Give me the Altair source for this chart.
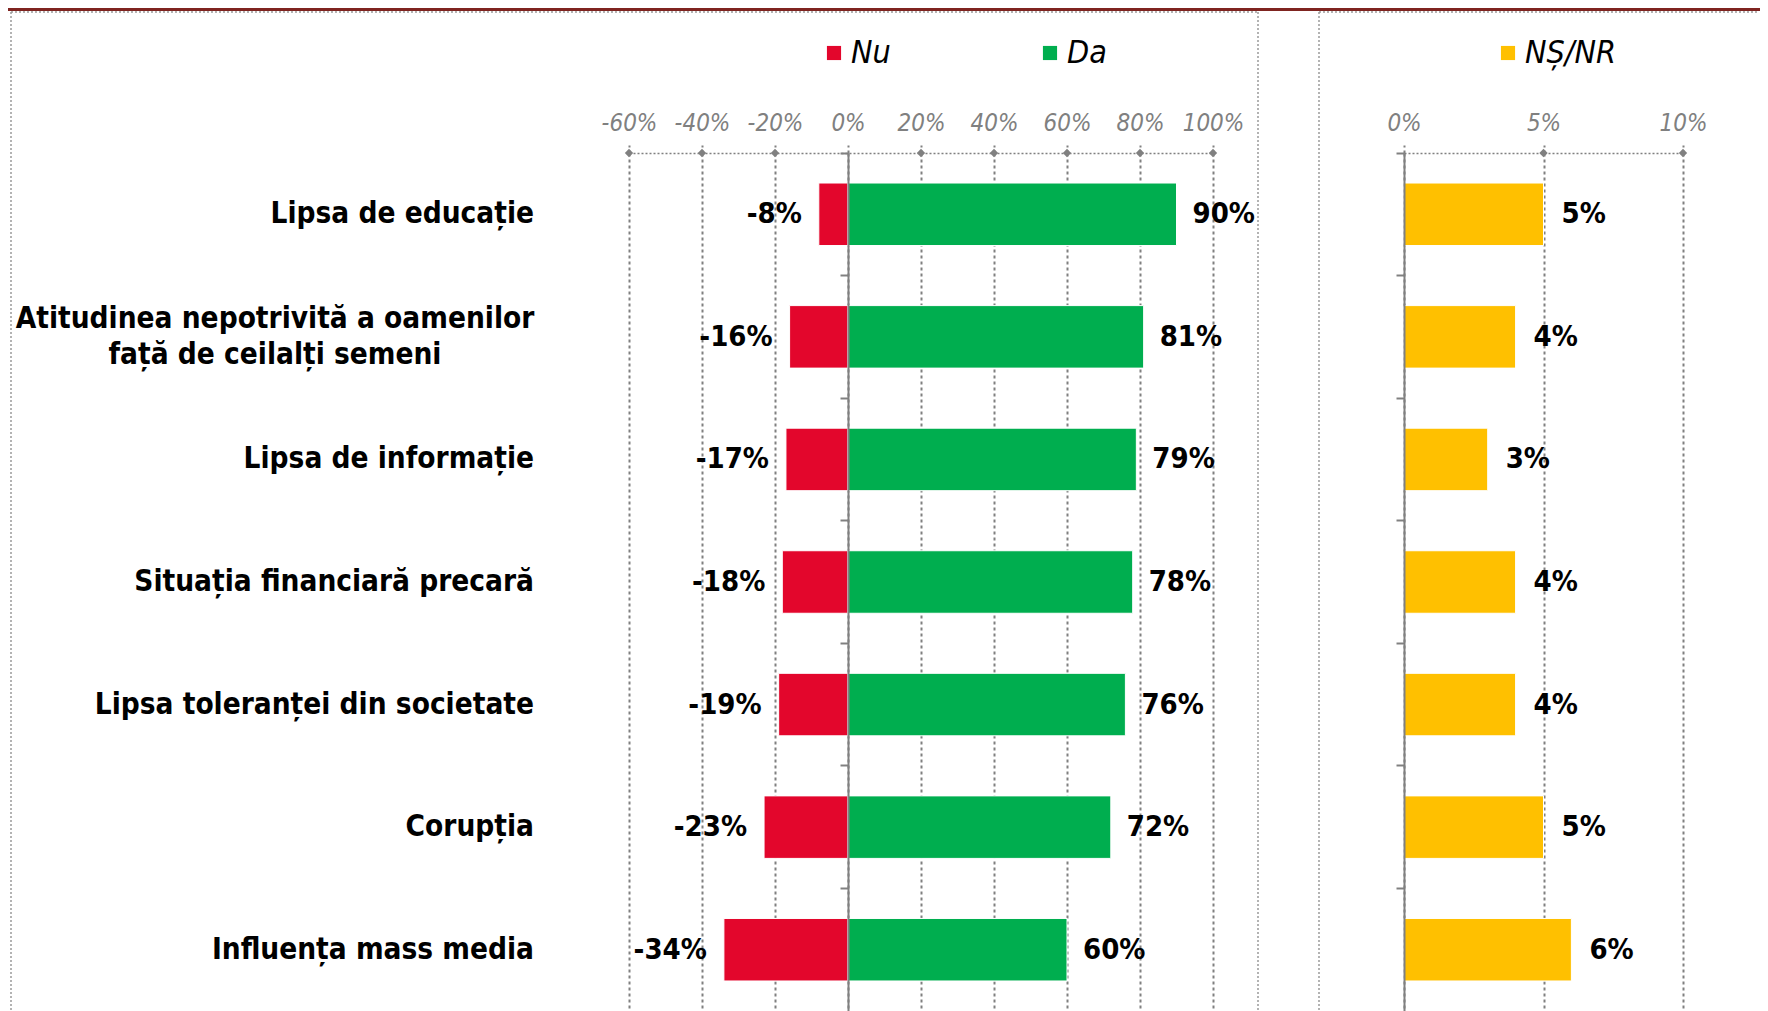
import altair as alt
import pandas as pd

# ---------------- data ----------------
categories = [
    "Lipsa de educație",
    "Atitudinea nepotrivită a oamenilor\nfață de ceilalți semeni",
    "Lipsa de informație",
    "Situația financiară precară",
    "Lipsa toleranței din societate",
    "Corupția",
    "Influența mass media",
]
nu_values = [-8, -16, -17, -18, -19, -23, -34]
da_values = [90, 81, 79, 78, 76, 72, 60]
nsnr_values = [5, 4, 3, 4, 4, 5, 6]
series_left = ["Nu", "Da"]
series_right = ["NȘ/NR"]
left_ticks = [-60, -40, -20, 0, 20, 40, 60, 80, 100]
right_ticks = [0, 5, 10]

# ---------------- style ----------------
RED, GREEN, YELLOW = "#E3062C", "#00AE4F", "#FFC000"
GRAY, BORDER, BAND = "#808080", "#9a9a9a", "#7F2420"
FONT = "'DejaVu Sans Condensed', 'DejaVu Sans', sans-serif"
TICKFONT = "'Liberation Sans Narrow', 'DejaVu Sans Condensed', 'DejaVu Sans', sans-serif"

W_L, W_R, H = 584, 279, 858
ZERO_OFF = W_L * 60 / 160

rows = []
for c, n, d in zip(categories, nu_values, da_values):
    rows.append({"cat": c, "series": series_left[0], "value": n, "label": f"{n}%"})
    rows.append({"cat": c, "series": series_left[1], "value": d, "label": f"{d}%"})
left_df = pd.DataFrame(rows)
right_df = pd.DataFrame({
    "cat": categories,
    "series": series_right[0],
    "value": nsnr_values,
    "label": [f"{v}%" for v in nsnr_values],
})
cat_df = pd.DataFrame({"cat": categories, "multi": ["\n" in c for c in categories]})
left_dia = pd.DataFrame({"tick": [t for t in left_ticks if t != 0]})
right_dia = pd.DataFrame({"tick": [t for t in right_ticks if t != 0]})
one = pd.DataFrame({"d": [0]})


def y_enc(offset):
    return alt.Y(
        "cat:N", sort=categories, title=None,
        scale=alt.Scale(paddingInner=0, paddingOuter=0),
        axis=alt.Axis(labels=False, domain=True, domainColor=GRAY, domainWidth=2,
                      ticks=True, tickColor=GRAY, tickWidth=2, tickSize=8,
                      bandPosition=0, offset=offset, grid=False, zindex=1),
    )


def x_axis(vals):
    return alt.Axis(
        orient="top", values=vals, labelExpr="datum.value + '%'", title=None,
        labelFont=TICKFONT, labelFontSize=24, labelFontStyle="italic", labelColor=GRAY,
        labelPadding=10, labelFlush=False, labelOverlap=False,
        domainColor=GRAY, domainDash=[2, 2], domainWidth=1.5,
        ticks=True, tickSize=8, tickDash=[3, 3], tickColor=GRAY, tickWidth=2,
        grid=True, gridDash=[3, 3], gridColor=GRAY, gridWidth=2, zindex=0,
    )


def legend(x, y, colpad):
    return alt.Legend(
        orient="none", legendX=x, legendY=y, direction="horizontal", title=None,
        symbolType="square", symbolSize=200, symbolStrokeWidth=0,
        labelFont=FONT, labelFontSize=32, labelFontStyle="italic", labelColor="black",
        labelOffset=1, columnPadding=colpad,
    )


# ---------------- left panel ----------------
lx = alt.X("value:Q", scale=alt.Scale(domain=[-60, 100], nice=False), axis=x_axis(left_ticks))

left_bars = alt.Chart(left_df).mark_bar(height={"band": 0.51}, stroke="white", strokeWidth=1).encode(
    x=lx,
    y=y_enc(-ZERO_OFF),
    color=alt.Color("series:N", scale=alt.Scale(domain=series_left, range=[RED, GREEN]),
                    legend=legend(189, -116, 143)),
)
nu_text = alt.Chart(left_df).transform_filter(alt.datum.series == series_left[0]).mark_text(
    align="right", baseline="middle", dx=-17, font=FONT, fontSize=29, fontWeight="bold", color="black"
).encode(x="value:Q", y=alt.Y("cat:N", sort=categories), text="label:N")
da_text = alt.Chart(left_df).transform_filter(alt.datum.series == series_left[1]).mark_text(
    align="left", baseline="middle", dx=16, font=FONT, fontSize=29, fontWeight="bold", color="black"
).encode(x="value:Q", y=alt.Y("cat:N", sort=categories), text="label:N")

cat_single = alt.Chart(cat_df).transform_filter("!datum.multi").mark_text(
    align="right", baseline="middle", font=FONT, fontSize=29.5, fontWeight="bold", color="black"
).encode(x=alt.value(-95), y=alt.Y("cat:N", sort=categories), text="cat:N")
cat_multi = alt.Chart(cat_df).transform_filter("datum.multi").mark_text(
    align="center", baseline="middle", font=FONT, fontSize=29.5, fontWeight="bold", color="black",
    lineBreak="\n", lineHeight=36, dy=-18,
).encode(x=alt.value(-354), y=alt.Y("cat:N", sort=categories), text="cat:N")

left_diamonds = alt.Chart(left_dia).mark_point(shape="diamond", filled=True, size=70, color=GRAY, opacity=1).encode(
    x="tick:Q", y=alt.value(0)
)

band = alt.Chart(one).mark_rect(color=BAND).encode(
    x=alt.value(-621), x2=alt.value(1131), y=alt.value(-145), y2=alt.value(-142)
)
lbox = [
    alt.Chart(one).mark_rule(color=BORDER, strokeDash=[2, 2], strokeWidth=1.5).encode(
        x=alt.value(-618), y=alt.value(-141), y2=alt.value(H)),
    alt.Chart(one).mark_rule(color=BORDER, strokeDash=[2, 2], strokeWidth=1.5).encode(
        x=alt.value(-618), x2=alt.value(629), y=alt.value(-141)),
    alt.Chart(one).mark_rule(color=BORDER, strokeDash=[2, 2], strokeWidth=1.5).encode(
        x=alt.value(629), y=alt.value(-141), y2=alt.value(H)),
]

left = alt.layer(left_bars, nu_text, da_text, cat_single, cat_multi, left_diamonds, band, *lbox).properties(
    width=W_L, height=H
)

# ---------------- right panel ----------------
rx = alt.X("value:Q", scale=alt.Scale(domain=[0, 10], nice=False), axis=x_axis(right_ticks))
right_bars = alt.Chart(right_df).mark_bar(height={"band": 0.51}, stroke="white", strokeWidth=1).encode(
    x=rx,
    y=y_enc(0),
    color=alt.Color("series:N", scale=alt.Scale(domain=series_right, range=[YELLOW]),
                    legend=legend(88, -116, 10)),
)
ns_text = alt.Chart(right_df).mark_text(
    align="left", baseline="middle", dx=18, font=FONT, fontSize=29, fontWeight="bold", color="black"
).encode(x="value:Q", y=alt.Y("cat:N", sort=categories), text="label:N")
right_diamonds = alt.Chart(right_dia).mark_point(shape="diamond", filled=True, size=70, color=GRAY, opacity=1).encode(
    x="tick:Q", y=alt.value(0)
)
rbox = [
    alt.Chart(one).mark_rule(color=BORDER, strokeDash=[2, 2], strokeWidth=1.5).encode(
        x=alt.value(-85), y=alt.value(-141), y2=alt.value(H)),
    alt.Chart(one).mark_rule(color=BORDER, strokeDash=[2, 2], strokeWidth=1.5).encode(
        x=alt.value(-85), x2=alt.value(355), y=alt.value(-141)),
]
right = alt.layer(right_bars, ns_text, right_diamonds, *rbox).properties(width=W_R, height=H)

chart = (
    alt.hconcat(left, right, spacing=191)
    .properties(bounds="flush", padding=0)
    .resolve_scale(color="independent", x="independent", y="independent")
    .resolve_legend(color="independent")
    .configure_view(stroke=None)
)

chart.save("out.html", embed_options={"renderer": "svg", "actions": False})
